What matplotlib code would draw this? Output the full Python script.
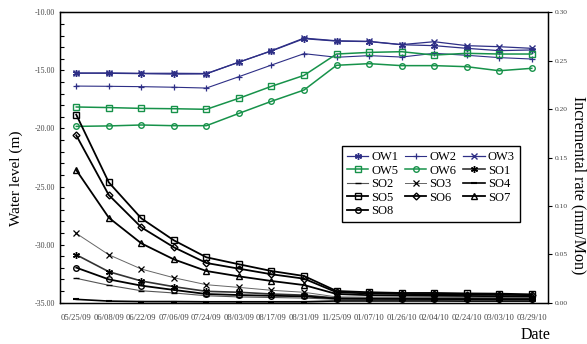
import matplotlib
matplotlib.use("Agg")
import matplotlib.pyplot as plt

plt.rcParams['font.family'] = ['Liberation Serif', 'DejaVu Serif']

dates = ['05/25/09', '06/08/09', '06/22/09', '07/06/09', '07/24/09', '08/03/09',
         '08/17/09', '08/31/09', '11/25/09', '01/07/10', '01/26/10', '02/04/10',
         '02/24/10', '03/03/10', '03/29/10']

# water levels (m)
ow1 = [-15.22, -15.25, -15.28, -15.32, -15.30, -14.28, -13.33, -12.27, -12.48, -12.52, -12.79, -12.87, -13.10, -13.30, -13.24]
ow2 = [-16.35, -16.37, -16.40, -16.45, -16.52, -15.54, -14.54, -13.56, -13.87, -13.73, -13.85, -13.53, -13.70, -13.90, -14.02]
ow3 = [-15.25, -15.22, -15.25, -15.25, -15.27, -14.30, -13.30, -12.22, -12.45, -12.50, -12.78, -12.53, -12.87, -12.96, -13.10]
ow5 = [-18.15, -18.20, -18.27, -18.30, -18.35, -17.40, -16.37, -15.43, -13.59, -13.45, -13.39, -13.68, -13.53, -13.59, -13.59]
ow6 = [-19.82, -19.78, -19.70, -19.76, -19.76, -18.70, -17.66, -16.69, -14.56, -14.42, -14.59, -14.59, -14.68, -15.03, -14.82]
so1 = [-30.87, -32.33, -33.13, -33.62, -34.02, -34.10, -34.25, -34.35, -34.60, -34.62, -34.62, -34.63, -34.64, -34.65, -34.66]
so2 = [-32.90, -33.50, -33.97, -34.16, -34.40, -34.50, -34.55, -34.60, -34.70, -34.71, -34.72, -34.72, -34.73, -34.74, -34.75]
so3 = [-29.03, -30.87, -32.10, -32.85, -33.45, -33.68, -33.93, -34.10, -34.50, -34.52, -34.53, -34.54, -34.55, -34.56, -34.57]
so4 = [-34.71, -34.86, -34.90, -34.90, -34.92, -34.92, -34.92, -34.92, -34.85, -34.85, -34.85, -34.85, -34.86, -34.86, -34.86]
so5 = [-18.81, -24.64, -27.74, -29.63, -31.09, -31.69, -32.27, -32.70, -33.99, -34.10, -34.16, -34.16, -34.20, -34.22, -34.28]
so6 = [-20.59, -25.73, -28.51, -30.23, -31.58, -32.07, -32.55, -32.93, -34.10, -34.20, -34.25, -34.27, -34.30, -34.32, -34.35]
so7 = [-23.58, -27.68, -29.89, -31.27, -32.27, -32.73, -33.13, -33.48, -34.25, -34.35, -34.38, -34.40, -34.42, -34.44, -34.46]
so8 = [-31.98, -32.99, -33.53, -33.90, -34.25, -34.34, -34.40, -34.45, -34.65, -34.66, -34.67, -34.68, -34.69, -34.70, -34.70]

x = list(range(len(dates)))
blue = '#2e2f86'
green = '#17924a'
ast = (6, 2, 0)

fig = plt.figure(figsize=(5.87, 3.44), dpi=100)
ax = fig.add_axes([0.1022, 0.12, 0.8314, 0.8442])

h = {}
h['OW1'], = ax.plot(x, ow1, color=blue, lw=0.9, marker=ast, ms=5, mew=1.0, label='OW1')
h['OW2'], = ax.plot(x, ow2, color=blue, lw=0.8, marker='+', ms=5, mew=0.9, label='OW2')
h['OW3'], = ax.plot(x, ow3, color=blue, lw=0.9, marker='x', ms=4, mew=1.0, label='OW3')
h['OW5'], = ax.plot(x, ow5, color=green, lw=1.1, marker='s', ms=4, mfc='none', mew=1.0, label='OW5')
h['OW6'], = ax.plot(x, ow6, color=green, lw=1.1, marker='o', ms=4, mfc='none', mew=1.0, label='OW6')
h['SO1'], = ax.plot(x, so1, color='#333333', lw=1.2, marker=ast, ms=5, mec='black', mew=1.0, label='SO1')
h['SO2'], = ax.plot(x, so2, color='#555555', lw=0.8, marker='_', ms=4, mec='black', label='SO2')
h['SO3'], = ax.plot(x, so3, color='#666666', lw=0.7, marker='x', ms=4, mec='black', mew=0.9, label='SO3')
h['SO4'], = ax.plot(x, so4, color='black', lw=1.2, marker='_', ms=5, mew=1.5, label='SO4')
h['SO5'], = ax.plot(x, so5, color='black', lw=1.3, marker='s', ms=4, mfc='none', mew=1.0, label='SO5')
h['SO6'], = ax.plot(x, so6, color='black', lw=1.3, marker='D', ms=3.5, mfc='none', mew=1.0, label='SO6')
h['SO7'], = ax.plot(x, so7, color='black', lw=1.3, marker='^', ms=4, mfc='none', mew=1.0, label='SO7')
h['SO8'], = ax.plot(x, so8, color='black', lw=1.3, marker='o', ms=4, mfc='none', mew=1.0, label='SO8')

ax.set_xlim(-0.5, len(dates) - 0.5)
ax.set_ylim(-35, -10)
ax.set_xticks(x)
ax.set_xticklabels(dates, fontsize=6.2, color='#444444')
ax.tick_params(axis='x', length=0, pad=8)
ax.set_yticks([-10, -15, -20, -25, -30, -35])
ax.set_yticklabels(['-10.00', '-15.00', '-20.00', '-25.00', '-30.00', '-35.00'],
                   fontsize=5.8, color='#444444')
ax.set_yticks(range(-34, -10), minor=True)
ax.tick_params(axis='y', which='both', direction='in', length=3, width=0.8)
for s in ax.spines.values():
    s.set_linewidth(1.0)

ax2 = ax.twinx()
ax2.set_ylim(0, 0.30)
ax2.set_yticks([0, 0.05, 0.10, 0.15, 0.20, 0.25, 0.30])
ax2.set_yticklabels(['0.00', '0.05', '0.10', '0.15', '0.20', '0.25', '0.30'],
                    fontsize=5.4, color='#444444')
ax2.tick_params(axis='y', direction='out', length=3, width=0.8, pad=2)

fig.text(0.027, 0.483, 'Water level (m)', rotation=90, fontsize=11, ha='center', va='center')
fig.text(0.985, 0.462, 'Incremental rate (mm/Mon)', rotation=270, fontsize=11.5, ha='center', va='center')
fig.text(0.913, 0.025, 'Date', fontsize=11.5, ha='center', va='center')

order = ['OW1', 'OW5', 'SO2', 'SO5', 'SO8', 'OW2', 'OW6', 'SO3', 'SO6', 'OW3', 'SO1', 'SO4', 'SO7']
leg = ax.legend([h[k] for k in order], order, ncol=3, loc='upper right',
                bbox_to_anchor=(0.955, 0.56), fontsize=9, frameon=True, fancybox=False,
                handlelength=1.7, handletextpad=0.25, columnspacing=0.55,
                labelspacing=0.12, borderpad=0.4, framealpha=1)
leg.get_frame().set_edgecolor('black')
leg.get_frame().set_linewidth(1.0)

fig.savefig('out.png', dpi=100)
